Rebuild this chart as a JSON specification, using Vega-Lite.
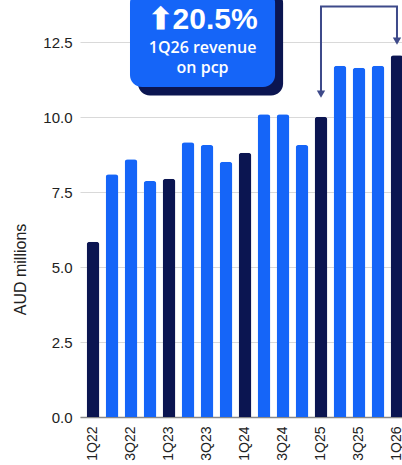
{
  "$schema": "https://vega.github.io/schema/vega-lite/v6.json",
  "width": 330,
  "height": 417,
  "autosize": {"type": "none"},
  "padding": {"left": 80, "top": 0, "right": 0, "bottom": 48},
  "background": "white",
  "config": {"view": {"stroke": null}, "font": "Liberation Sans"},
  "layer": [
    {
      "data": {"values": [
        {"q": "1Q22", "v": 5.84}, {"q": "2Q22", "v": 8.09}, {"q": "3Q22", "v": 8.59}, {"q": "4Q22", "v": 7.87},
        {"q": "1Q23", "v": 7.94}, {"q": "2Q23", "v": 9.16}, {"q": "3Q23", "v": 9.07}, {"q": "4Q23", "v": 8.51},
        {"q": "1Q24", "v": 8.81}, {"q": "2Q24", "v": 10.09}, {"q": "3Q24", "v": 10.09}, {"q": "4Q24", "v": 9.07},
        {"q": "1Q25", "v": 10.01}, {"q": "2Q25", "v": 11.71}, {"q": "3Q25", "v": 11.64}, {"q": "4Q25", "v": 11.71},
        {"q": "1Q26", "v": 12.06}
      ]},
      "mark": {"type": "bar", "cornerRadiusTopLeft": 3, "cornerRadiusTopRight": 3},
      "encoding": {
        "x": {
          "field": "q", "type": "nominal",
          "scale": {"domain": ["1Q22","2Q22","3Q22","4Q22","1Q23","2Q23","3Q23","4Q23","1Q24","2Q24","3Q24","4Q24","1Q25","2Q25","3Q25","4Q25","1Q26"], "paddingInner": 0.33, "paddingOuter": 0.35},
          "axis": {"title": null, "values": ["1Q22","3Q22","1Q23","3Q23","1Q24","3Q24","1Q25","3Q25","1Q26"], "labelAngle": -90, "ticks": false, "domainColor": "#888888", "domainWidth": 1.5, "labelFontSize": 14, "labelColor": "#222222", "labelPadding": 9, "grid": false}
        },
        "y": {
          "field": "v", "type": "quantitative",
          "scale": {"domain": [0, 13.9], "nice": false, "zero": true},
          "axis": {"title": "AUD millions", "values": [0, 2.5, 5, 7.5, 10, 12.5], "format": ".1f", "ticks": false, "domain": false, "grid": true, "gridColor": "#d9d9d9", "labelFontSize": 15, "labelColor": "#222222", "labelPadding": 8, "titleFontSize": 16, "titleFontWeight": "normal", "titleColor": "#222222", "titleX": -60, "titleY": 269, "titleBaseline": "middle"}
        },
        "color": {"condition": {"test": "indexof(datum.q, '1Q') === 0", "value": "#0b1551"}, "value": "#1565f8"}
      }
    },
    {
      "data": {"values": [{}]},
      "mark": {"type": "rect", "cornerRadius": 12, "fill": "#0b1551"},
      "encoding": {
        "x": {"datum": "3Q22", "type": "nominal", "bandPosition": 1.05},
        "x2": {"datum": "2Q24", "bandPosition": 2.0},
        "y": {"datum": 14.2, "type": "quantitative"},
        "y2": {"datum": 10.72}
      }
    },
    {
      "data": {"values": [{}]},
      "mark": {"type": "rect", "cornerRadius": 12, "fill": "#1565f8"},
      "encoding": {
        "x": {"datum": "3Q22", "type": "nominal", "bandPosition": 0.42},
        "x2": {"datum": "2Q24", "bandPosition": 1.37},
        "y": {"datum": 14.2, "type": "quantitative"},
        "y2": {"datum": 11.0}
      }
    },
    {
      "data": {"values": [{"t": "⬆20.5%"}]},
      "mark": {"type": "text", "font": "Liberation Sans", "fontWeight": "bold", "fontSize": 30, "color": "white", "baseline": "alphabetic", "align": "center"},
      "encoding": {
        "x": {"datum": "3Q23", "type": "nominal", "bandPosition": 0.15},
        "y": {"datum": 12.95, "type": "quantitative"},
        "text": {"field": "t"}
      }
    },
    {
      "data": {"values": [{"t": "1Q26 revenue", "y": 12.3}, {"t": "on pcp", "y": 11.64}]},
      "mark": {"type": "text", "font": "Open Sans", "fontWeight": 600, "fontSize": 16, "color": "white", "baseline": "middle", "align": "center"},
      "encoding": {
        "x": {"datum": "3Q23", "type": "nominal", "bandPosition": 0.15},
        "y": {"field": "y", "type": "quantitative"},
        "text": {"field": "t"}
      }
    },
    {
      "data": {"values": [
        {"q": "1Q25", "v": 10.75, "o": 1}, {"q": "1Q25", "v": 13.68, "o": 2},
        {"q": "1Q26", "v": 13.68, "o": 3}, {"q": "1Q26", "v": 12.5, "o": 4}
      ]},
      "mark": {"type": "line", "color": "#3e4a8a", "strokeWidth": 2},
      "encoding": {
        "x": {"field": "q", "type": "nominal"},
        "y": {"field": "v", "type": "quantitative"},
        "order": {"field": "o"}
      }
    },
    {
      "data": {"values": [{"q": "1Q25", "v": 10.76}, {"q": "1Q26", "v": 12.53}]},
      "mark": {"type": "point", "shape": "triangle-down", "filled": true, "size": 70, "color": "#3e4a8a", "opacity": 1},
      "encoding": {
        "x": {"field": "q", "type": "nominal"},
        "y": {"field": "v", "type": "quantitative"}
      }
    }
  ]
}
